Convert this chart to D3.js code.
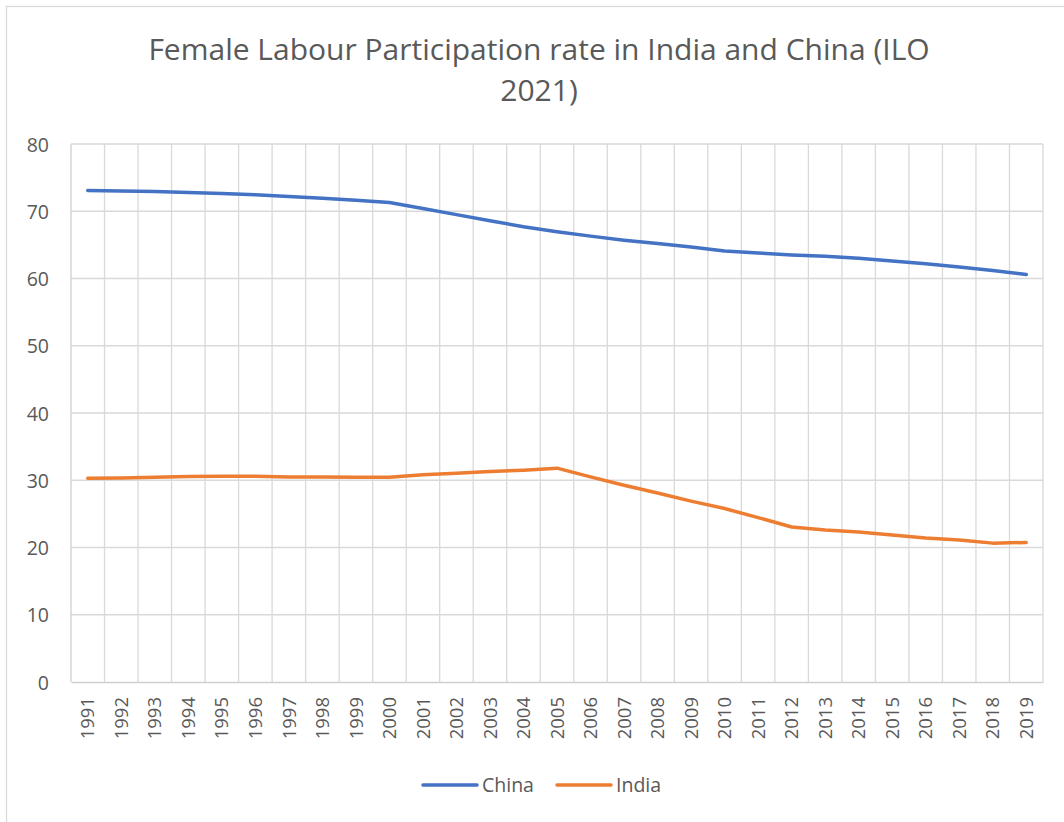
<!DOCTYPE html>
<html>
<head>
<meta charset="utf-8">
<script src="https://cdn.jsdelivr.net/npm/d3@7"></script>
<style>
  html, body { margin: 0; padding: 0; background: #ffffff; }
  svg { display: block; }
  text { font-family: "Open Sans", "Liberation Sans", sans-serif; fill: #595959; }
</style>
</head>
<body>
<svg id="chart" width="1064" height="822"></svg>
<script>
// Female labour force participation rate (%), ILO modelled estimates 2021
const years = ["1991","1992","1993","1994","1995","1996","1997","1998","1999","2000",
               "2001","2002","2003","2004","2005","2006","2007","2008","2009","2010",
               "2011","2012","2013","2014","2015","2016","2017","2018","2019"];
const china = [73.1, 73.0, 72.95, 72.8, 72.65, 72.45, 72.2, 71.95, 71.65, 71.3,
               70.4, 69.5, 68.6, 67.7, 66.95, 66.3, 65.7, 65.2, 64.7, 64.1,
               63.8, 63.5, 63.3, 63.0, 62.6, 62.2, 61.7, 61.2, 60.6];
const india = [30.3, 30.35, 30.45, 30.55, 30.6, 30.6, 30.5, 30.5, 30.45, 30.45,
               30.8, 31.05, 31.3, 31.5, 31.8, 30.5, 29.25, 28.1, 26.9, 25.8,
               24.45, 23.05, 22.6, 22.3, 21.85, 21.4, 21.1, 20.65, 20.75];
const yTicks = [0, 10, 20, 30, 40, 50, 60, 70, 80];
const seriesNames = ["China", "India"];
const seriesColors = ["#4472C4", "#ED7D31"];
const titleLines = ["Female Labour Participation rate in India and China (ILO", "2021)"];

const svg = d3.select("#chart");

// chart area border
svg.append("rect")
  .attr("x", 6.5).attr("y", 6.5)
  .attr("width", 1100).attr("height", 900)
  .attr("fill", "#ffffff")
  .attr("stroke", "#d9d9d9").attr("stroke-width", 1.3);

const plot = { left: 71, right: 1043, top: 144, bottom: 682 };

const x = d3.scaleBand().domain(years).range([plot.left, plot.right]).padding(0);
const y = d3.scaleLinear().domain([0, 80]).range([plot.bottom, plot.top]);

// horizontal gridlines
svg.append("g")
  .selectAll("line")
  .data(yTicks.filter(d => d > 0))
  .join("line")
  .attr("x1", plot.left).attr("x2", plot.right)
  .attr("y1", d => y(d)).attr("y2", d => y(d))
  .attr("stroke", "#d9d9d9").attr("stroke-width", 1.3);

// vertical gridlines between categories
const bounds = years.map(d => x(d) + x.bandwidth());
svg.append("g")
  .selectAll("line")
  .data(bounds)
  .join("line")
  .attr("x1", d => d).attr("x2", d => d)
  .attr("y1", plot.top).attr("y2", plot.bottom)
  .attr("stroke", "#d9d9d9").attr("stroke-width", 1.3);

// left axis line
svg.append("line")
  .attr("x1", plot.left).attr("x2", plot.left)
  .attr("y1", plot.top).attr("y2", plot.bottom)
  .attr("stroke", "#cfcfcf").attr("stroke-width", 1.3);

// y axis labels
const yAxis = d3.axisLeft(y).tickValues(yTicks).tickSize(0).tickPadding(22);
const gy = svg.append("g").attr("transform", `translate(${plot.left},0)`).call(yAxis);
gy.select(".domain").remove();
gy.selectAll("text")
  .attr("font-size", 19.5)
  .attr("dy", "0.36em")
  .style("font-family", "'Open Sans', sans-serif")
  .attr("fill", "#595959");

// x axis with rotated year labels
const xAxis = d3.axisBottom(x).tickSize(0).tickPadding(0);
const gx = svg.append("g").attr("transform", `translate(0,${plot.bottom})`).call(xAxis);
gx.select(".domain")
  .attr("stroke", "#cfcfcf").attr("stroke-width", 1.5);
gx.selectAll("text")
  .attr("font-size", 18.5)
  .attr("fill", "#595959")
  .style("font-family", "'Open Sans', sans-serif")
  .attr("text-anchor", "end")
  .attr("transform", "rotate(-90)")
  .attr("x", -15)
  .attr("y", 0)
  .attr("dy", "0.36em");

// series lines
const line = d3.line()
  .x((d, i) => x(years[i]) + x.bandwidth() / 2)
  .y(d => y(d));

[china, india].forEach((vals, k) => {
  svg.append("path")
    .datum(vals)
    .attr("fill", "none")
    .attr("stroke", seriesColors[k])
    .attr("stroke-width", 3.5)
    .attr("stroke-linejoin", "round")
    .attr("stroke-linecap", "round")
    .attr("d", line);
});

// title
const title = svg.append("text")
  .attr("text-anchor", "middle")
  .attr("font-size", 30)
  .attr("fill", "#595959");
title.selectAll("tspan")
  .data(titleLines)
  .join("tspan")
  .attr("x", 539)
  .attr("y", (d, i) => 60 + i * 41)
  .text(d => d);

// legend
const legend = svg.append("g");
const legendItems = [{ x0: 423 }, { x0: 557 }];
seriesNames.forEach((name, k) => {
  const g = legend.append("g").attr("transform", `translate(${legendItems[k].x0},785)`);
  g.append("line")
    .attr("x1", 0).attr("x2", 54).attr("y1", 0).attr("y2", 0)
    .attr("stroke", seriesColors[k]).attr("stroke-width", 3.5)
    .attr("stroke-linecap", "round");
  g.append("text")
    .attr("x", 59).attr("y", 0).attr("dy", "0.36em")
    .attr("font-size", 19.5)
    .attr("fill", "#595959")
    .text(name);
});
</script>
</body>
</html>
